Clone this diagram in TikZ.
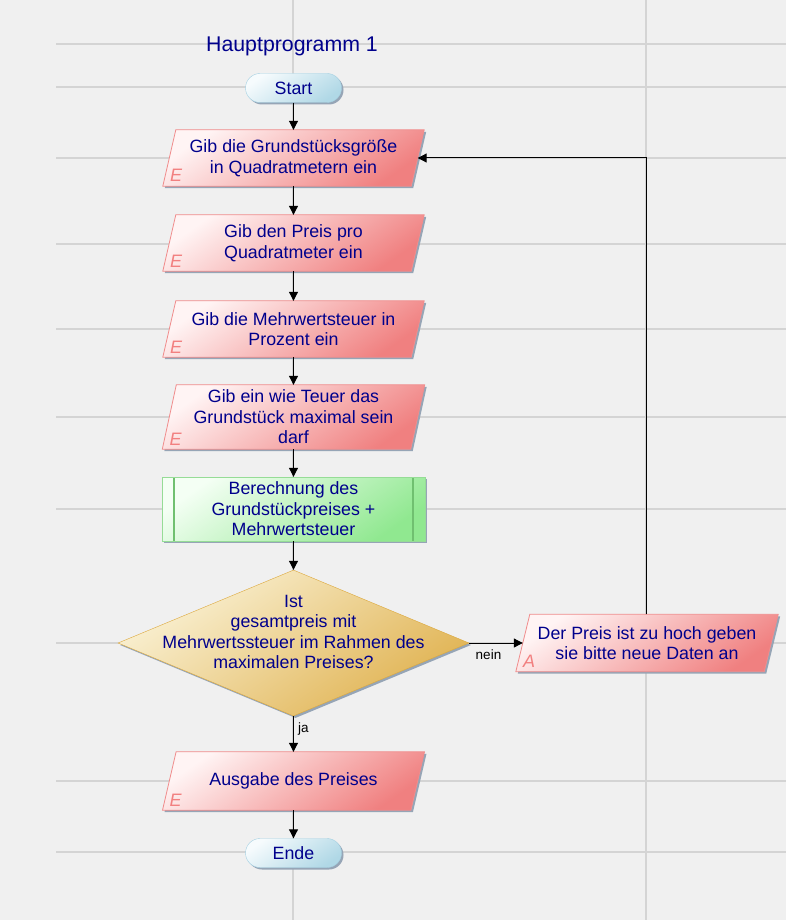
\documentclass[tikz,border=0pt]{standalone}
\usepackage{fontspec}
\setmainfont{Liberation Sans}
\usetikzlibrary{shapes.geometric,arrows.meta,shadows,calc}

\definecolor{bg}{RGB}{240,240,240}
\definecolor{gridc}{RGB}{212,212,212}
\definecolor{txt}{RGB}{0,0,140}
\definecolor{ioA}{RGB}{255,244,244}
\definecolor{ioB}{RGB}{240,128,128}
\definecolor{ioD}{RGB}{240,140,140}
\definecolor{ioE}{RGB}{242,128,128}
\definecolor{prA}{RGB}{244,255,244}
\definecolor{prB}{RGB}{144,232,144}
\definecolor{prD}{RGB}{150,220,150}
\definecolor{prL}{RGB}{112,192,112}
\definecolor{dcA}{RGB}{250,242,214}
\definecolor{dcB}{RGB}{224,178,80}
\definecolor{dcD}{RGB}{220,168,60}
\definecolor{tmA}{RGB}{246,251,253}
\definecolor{tmB}{RGB}{176,216,230}
\definecolor{tmD}{RGB}{164,208,226}
\definecolor{shd}{RGB}{150,165,182}

\pgfdeclarelayer{back}
\pgfsetlayers{back,main}

\begin{document}
\begin{tikzpicture}[x=1pt,y=-1pt,
  gridline/.style={draw=gridc, line width=1.2pt},
  base/.style={text=txt, font=\fontsize{17.8}{20.5}\selectfont, align=center, inner sep=0pt},
  shadowed/.style={drop shadow={shadow xshift=2pt, shadow yshift=-2pt, fill=shd, opacity=1}},
  terminal/.style={base, shadowed, rectangle, rounded corners=14.5pt, minimum width=96pt, minimum height=29pt,
    draw=tmD, top color=tmA, bottom color=tmB, shading angle=35},
  % text box of an input/output step; its parallelogram is drawn behind it
  io/.style={base, rectangle, minimum width=248pt, minimum height=56pt},
  iofill/.style={draw=ioD, line width=0.8pt, top color=ioA, bottom color=ioB, shading angle=35},
  ioshadow/.style={fill=shd},
  process/.style={base, shadowed, rectangle, minimum width=263pt, minimum height=64pt,
    draw=prD, top color=prA, bottom color=prB, shading angle=35,
    path picture={
      \draw[prL, line width=1.2pt]
        ([xshift=12pt]path picture bounding box.north west) -- ([xshift=12pt]path picture bounding box.south west)
        ([xshift=-12pt]path picture bounding box.north east) -- ([xshift=-12pt]path picture bounding box.south east);
    }},
  decision/.style={base, shadowed, diamond, minimum width=351pt, minimum height=146pt,
    draw=dcD, top color=dcA, bottom color=dcB, shading angle=35},
  title/.style={text=txt, font=\fontsize{21.3}{24}\selectfont, inner sep=0pt},
  eletter/.style={text=ioE, font=\fontsize{18}{20}\selectfont\itshape, inner sep=0pt},
  lbl/.style={text=black, font=\fontsize{13.5}{15}\selectfont, inner sep=2pt},
  conn/.style={draw=black, line width=1pt, -{Triangle[length=9pt,width=9pt]}}
]
\useasboundingbox (0,0) rectangle (786,920);

% heading
\node[title] (title) at (292,46) {Hauptprogramm 1};

% main column
\node[terminal] (start) at (293.5,88) {Start};
\node[io] (in1) at (293.5,158) {Gib die Grundstücksgröße\\in Quadratmetern ein};
\node[io] (in2) at (293.5,243) {Gib den Preis pro\\Quadratmeter ein};
\node[io] (in3) at (293.5,329) {Gib die Mehrwertsteuer in\\Prozent ein};
\node[io, minimum height=64pt] (in4) at (293.5,417) {Gib ein wie Teuer das\\Grundstück maximal sein\\darf};
\node[process] (calc) at (293.5,509) {Berechnung des\\Grundstückpreises +\\Mehrwertsteuer};
\node[decision] (dec) at (293.5,643) {};
\node[base] (dectext) at ($(dec.center)+(0,-11)$) {Ist\\gesamtpreis mit\\Mehrwertssteuer im Rahmen des\\maximalen Preises?};
\node[io, minimum height=57pt] (msg) at (647,643) {Der Preis ist zu hoch geben\\sie bitte neue Daten an};
\node[io, minimum height=58pt] (outp) at (293.5,781) {Ausgabe des Preises};
\node[terminal] (ende) at (293.5,853) {Ende};

% canvas, grid and the parallelograms of the input/output steps
\begin{pgfonlayer}{back}
  \fill[bg] (0,0) rectangle (786,920);
  \foreach \y in {44,87,158,244,329,417,509,643,781,852}
    \draw[gridline] (56,\y) -- (786,\y);
  \foreach \x in {293,646}
    \draw[gridline] (\x,0) -- (\x,920);
  \foreach \n/\s/\t in {in1/6.5/E,in2/6.5/E,in3/6.5/E,in4/7/E,outp/6.8/E,msg/7/A} {
    \fill[ioshadow] ($(\n.south west)+(-\s+2,2)$) -- ($(\n.north west)+(\s+2,2)$)
      -- ($(\n.north east)+(\s+2,2)$) -- ($(\n.south east)+(-\s+2,2)$) -- cycle;
    \shade[iofill] ($(\n.south west)+(-\s,0)$) -- ($(\n.north west)+(\s,0)$)
      -- ($(\n.north east)+(\s,0)$) -- ($(\n.south east)+(-\s,0)$) -- cycle;
    \node[eletter, anchor=south west] at ($(\n.south west)+(-\s+7,-4)$) {\t};
  }
\end{pgfonlayer}

% connectors
\draw[conn] (start) -- (in1);
\draw[conn] (in1) -- (in2);
\draw[conn] (in2) -- (in3);
\draw[conn] (in3) -- (in4);
\draw[conn] (in4) -- (calc);
\draw[conn] (calc) -- (dec);
\draw[conn] (dec) -- node[lbl, pos=0.36, anchor=north, yshift=-4pt] {nein} (msg);
\draw[conn] (dec) -- node[lbl, pos=0.35, anchor=west, xshift=2pt] {ja} (outp);
\draw[conn] (outp) -- (ende);
\draw[conn] (msg.north -| 646,0) |- (in1.east);
\end{tikzpicture}
\end{document}
